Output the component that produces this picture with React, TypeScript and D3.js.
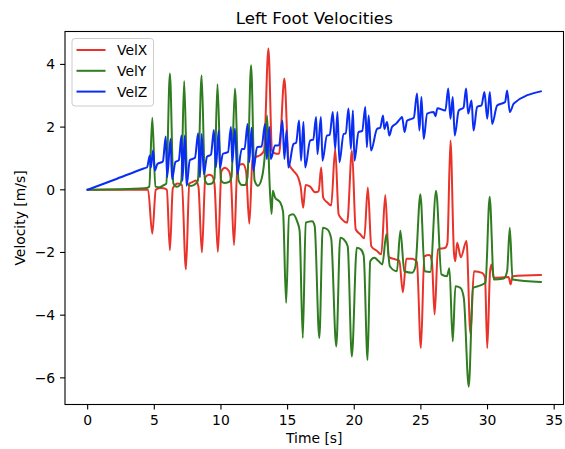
import React from 'react';
import * as d3 from 'd3';

const timeX = [0, 4.29, 4.53, 4.85, 5.11, 5.41, 5.71, 5.94, 6.17, 6.39, 6.77, 7.07, 7.37, 7.63, 7.89, 8.12, 8.31, 8.57, 8.83, 9.1, 9.32, 9.51, 9.77, 10.04, 10.3, 10.6, 10.75, 10.98, 11.24, 11.65, 11.88, 12.13, 12.37, 12.63, 12.93, 13.23, 13.56, 13.83, 14.14, 14.36, 14.76, 15.08, 15.41, 15.79, 15.98, 16.17, 16.35, 16.69, 17.07, 17.33, 17.52, 17.67, 17.97, 18.27, 18.57, 18.83, 19.1, 19.47, 19.83, 20.11, 20.45, 20.75, 21.02, 21.28, 21.73, 22.03, 22.33, 22.59, 23.08, 23.38, 23.65, 23.91, 24.36, 24.7, 25.0, 25.26, 25.64, 25.83, 26.03, 26.28, 26.84, 26.99, 27.22, 27.48, 27.58, 27.72, 28.0, 28.42, 28.72, 28.98, 29.59, 29.81, 29.98, 30.19, 30.3, 30.47, 31.58, 31.73, 31.88, 34.0];
const velX = [0, 0, 0, -1.4, 0, 0.06, 0.05, 0, -1.93, 0.05, 0.2, 0.15, -2.54, 0.2, 0.25, 0.3, 0.1, -2.0, 0.4, 0.48, 0.45, 0.2, -1.98, 0.6, 0.7, 0.6, 0.3, -1.76, 0.75, 0.82, 0.6, -1.08, 0.95, 1.05, 1.1, 1.25, 4.51, 1.25, 1.15, 1.15, 3.55, 0.85, 0.62, 0.4, 0.1, -0.57, 0.15, 0.1, -0.08, -0.05, 0.71, -0.25, -0.4, -0.5, 1.3, -0.78, -0.95, -1.05, 1.25, -1.26, -1.42, -1.55, 0.07, -1.8, -1.96, -2.06, -0.17, -2.15, -2.22, -2.26, -3.27, -2.2, -2.2, -2.3, -5.05, -2.12, -2.08, -2.3, -3.98, -1.9, -1.85, -1.7, 1.57, -2.0, -2.28, -1.69, -2.15, -1.63, -4.6, -2.6, -2.65, -2.8, -5.05, -2.6, -2.38, -2.81, -2.78, -3.02, -2.76, -2.72];

const timeY = [0, 4.29, 4.51, 4.62, 4.85, 5.08, 5.41, 5.71, 5.9, 6.17, 6.43, 6.69, 6.92, 7.03, 7.24, 7.48, 7.74, 8.12, 8.27, 8.55, 8.8, 9.02, 9.32, 9.51, 9.74, 10.0, 10.23, 10.6, 10.79, 11.05, 11.32, 11.58, 11.8, 11.99, 12.26, 12.52, 12.78, 13.08, 13.27, 13.46, 13.65, 13.8, 13.89, 14.06, 14.44, 14.66, 14.89, 15.11, 15.41, 15.71, 15.9, 16.14, 16.36, 16.84, 17.03, 17.38, 17.64, 17.97, 18.27, 18.65, 18.95, 19.21, 19.51, 19.82, 20.19, 20.49, 20.71, 21.0, 21.2, 21.5, 21.84, 22.11, 22.41, 22.67, 23.2, 23.46, 23.76, 24.34, 24.59, 24.96, 25.29, 25.71, 26.14, 26.54, 26.95, 27.14, 27.39, 27.59, 27.97, 28.22, 28.59, 28.91, 29.47, 29.85, 30.16, 30.47, 31.22, 31.47, 31.67, 31.88, 34.0];
const velY = [0, 0.05, 0.07, 0.1, 2.3, 0.1, 0.08, 0.15, 0.2, 3.71, 0.2, 0.1, 0.15, 0.3, 3.47, 0.2, 0.12, 0.2, 0.3, 3.65, 0.3, 0.18, 0.2, 0.35, 3.37, 0.3, 0.22, 0.25, 0.4, 3.23, 0.3, 0.15, 0.15, 0.4, 3.97, 0.3, 0.13, 0.4, 1.0, 2.37, 0.2, -0.77, -0.03, -0.25, -0.4, -0.7, -3.61, -0.83, -0.78, -1.0, -1.3, -4.73, -1.05, -1.0, -1.15, -4.73, -1.21, -1.26, -1.55, -5.0, -1.53, -1.58, -1.8, -5.32, -1.85, -1.9, -2.1, -5.43, -2.28, -2.17, -2.28, -2.38, -1.42, -2.44, -2.6, -1.31, -2.6, -2.65, -2.45, -0.14, -2.6, -2.62, -0.03, -2.7, -2.76, -2.5, -4.84, -3.08, -3.13, -3.45, -6.28, -3.13, -3.05, -2.95, -0.22, -2.86, -2.83, -2.6, -1.21, -2.86, -2.94];

const timeZ = [0, 2.0, 4.2, 4.46, 4.66, 4.74, 4.91, 5.04, 5.23, 5.64, 5.86, 5.96, 6.22, 6.33, 6.58, 6.84, 7.04, 7.11, 7.29, 7.42, 7.67, 8.05, 8.29, 8.42, 8.55, 8.72, 8.95, 9.25, 9.47, 9.62, 9.83, 9.92, 10.15, 10.53, 10.75, 10.85, 11.05, 11.23, 11.56, 11.77, 12.0, 12.12, 12.3, 12.43, 12.71, 13.05, 13.31, 13.44, 13.63, 13.74, 14.06, 14.36, 14.61, 14.76, 14.92, 15.06, 15.44, 15.64, 15.86, 16.01, 16.19, 16.32, 16.69, 16.92, 17.14, 17.24, 17.5, 17.62, 17.95, 18.16, 18.39, 18.57, 18.74, 18.89, 19.2, 19.36, 19.57, 19.75, 19.9, 20.02, 20.32, 20.6, 20.83, 20.95, 21.08, 21.26, 21.71, 21.95, 22.16, 22.26, 22.46, 22.63, 22.83, 23.16, 23.46, 23.59, 23.78, 23.96, 24.21, 24.47, 24.71, 24.89, 25.04, 25.21, 25.47, 25.96, 26.09, 26.24, 26.84, 27.05, 27.22, 27.39, 27.54, 27.84, 28.2, 28.39, 28.55, 28.8, 28.95, 29.22, 29.55, 29.77, 29.98, 30.17, 30.35, 30.72, 31.32, 31.47, 31.67, 31.97, 34.0];
const velZ = [0, 0.32, 0.68, 0.72, 1.09, 0.71, 1.25, 0.61, 0.82, 0.9, 1.7, 0.4, 1.62, 0.34, 0.88, 0.95, 1.73, 0.29, 1.73, 0.13, 0.95, 1.02, 1.8, 0.4, 1.78, 0.5, 1.05, 1.12, 1.91, 0.71, 1.89, 0.7, 1.15, 1.2, 2.0, 0.88, 1.95, 0.5, 1.3, 1.3, 2.1, 0.88, 1.98, 0.61, 1.36, 1.38, 2.1, 0.98, 2.0, 0.98, 1.41, 1.42, 2.21, 0.98, 1.9, 0.71, 1.46, 1.5, 2.21, 0.93, 2.16, 0.71, 1.57, 1.6, 2.32, 1.14, 2.32, 0.93, 1.73, 1.75, 2.48, 1.3, 2.48, 0.88, 1.78, 1.8, 2.59, 1.3, 2.53, 0.93, 1.84, 1.88, 2.64, 1.36, 2.37, 1.25, 1.94, 1.98, 2.37, 1.94, 2.16, 1.73, 2.0, 2.12, 2.27, 2.32, 1.84, 2.2, 2.25, 2.3, 3.07, 1.89, 2.96, 1.62, 2.43, 2.48, 2.35, 2.6, 2.53, 3.23, 2.27, 2.96, 1.73, 2.53, 2.62, 3.23, 2.43, 2.85, 1.89, 2.64, 2.7, 3.12, 2.27, 3.12, 2.1, 2.69, 2.8, 3.17, 2.48, 2.75, 3.14];

const seriesNames = ['VelX', 'VelY', 'VelZ'];
const xTicks = [0, 5, 10, 15, 20, 25, 30, 35];
const yTicks = [-6, -4, -2, 0, 2, 4];

const colors = ['#e8322a', '#2f7d20', '#0a2df5'];
const FONT = '"DejaVu Sans", Verdana, sans-serif';

export default function App() {
  const W = 565, H = 449;
  const L = 65, R = 563.5, T = 31.5, B = 404.5;
  const x = d3.scaleLinear().domain([-1.7, 35.7]).range([L, R]);
  const y = d3.scaleLinear().domain([-6.85, 5.05]).range([B, T]);

  const series = [
    timeX.map((t, i) => [t, velX[i]] as [number, number]),
    timeY.map((t, i) => [t, velY[i]] as [number, number]),
    timeZ.map((t, i) => [t, velZ[i]] as [number, number]),
  ];
  const line = d3.line<[number, number]>()
    .x(d => x(d[0]))
    .y(d => y(d[1]))
    .curve(d3.curveMonotoneX);

  const fmt = (v: number) => (v < 0 ? '\u2212' + Math.abs(v) : String(v));
  const tickLen = 4.9;

  return (
    <svg width={W} height={H} style={{ position: 'absolute', left: 0, top: 0, background: '#fff' }} fontFamily={FONT}>
      <rect x={0} y={0} width={W} height={H} fill="#fff" />
      <defs>
        <clipPath id="plotclip">
          <rect x={L} y={T} width={R - L} height={B - T} />
        </clipPath>
      </defs>
      <g clipPath="url(#plotclip)">
        {series.map((s, i) => (
          <path key={i} d={line(s) || ''} fill="none" stroke={colors[i]} strokeWidth={2} strokeLinejoin="round" strokeLinecap="square" />
        ))}
      </g>
      <rect x={L} y={T} width={R - L} height={B - T} fill="none" stroke="#000" strokeWidth={1.1} />
      {xTicks.map(t => (
        <g key={'x' + t}>
          <line x1={x(t)} x2={x(t)} y1={B} y2={B + tickLen} stroke="#000" strokeWidth={1.1} />
          <text x={x(t)} y={B + 20} fontSize={13.9} textAnchor="middle" fill="#000">{fmt(t)}</text>
        </g>
      ))}
      {yTicks.map(t => (
        <g key={'y' + t}>
          <line x1={L - tickLen} x2={L} y1={y(t)} y2={y(t)} stroke="#000" strokeWidth={1.1} />
          <text x={L - 9.8} y={y(t) + 5} fontSize={13.9} textAnchor="end" fill="#000">{fmt(t)}</text>
        </g>
      ))}
      <text x={(L + R) / 2} y={443} fontSize={13.9} textAnchor="middle" fill="#000">Time [s]</text>
      <text transform={`translate(25,${(T + B) / 2}) rotate(-90)`} fontSize={13.9} textAnchor="middle" fill="#000">Velocity [m/s]</text>
      <text x={(L + R) / 2} y={24} fontSize={16.7} textAnchor="middle" fill="#000">Left Foot Velocities</text>
      <g>
        <rect x={72} y={38.5} width={81.5} height={67.5} rx={3} ry={3} fill="#fff" fillOpacity={0.8} stroke="#cccccc" strokeWidth={1} />
        {seriesNames.map((n, i) => (
          <g key={n}>
            <line x1={76.5} x2={105.5} y1={50 + i * 20.8} y2={50 + i * 20.8} stroke={colors[i]} strokeWidth={2} />
            <text x={117} y={50 + i * 20.8 + 5} fontSize={13.9} fill="#000">{n}</text>
          </g>
        ))}
      </g>
    </svg>
  );
}
